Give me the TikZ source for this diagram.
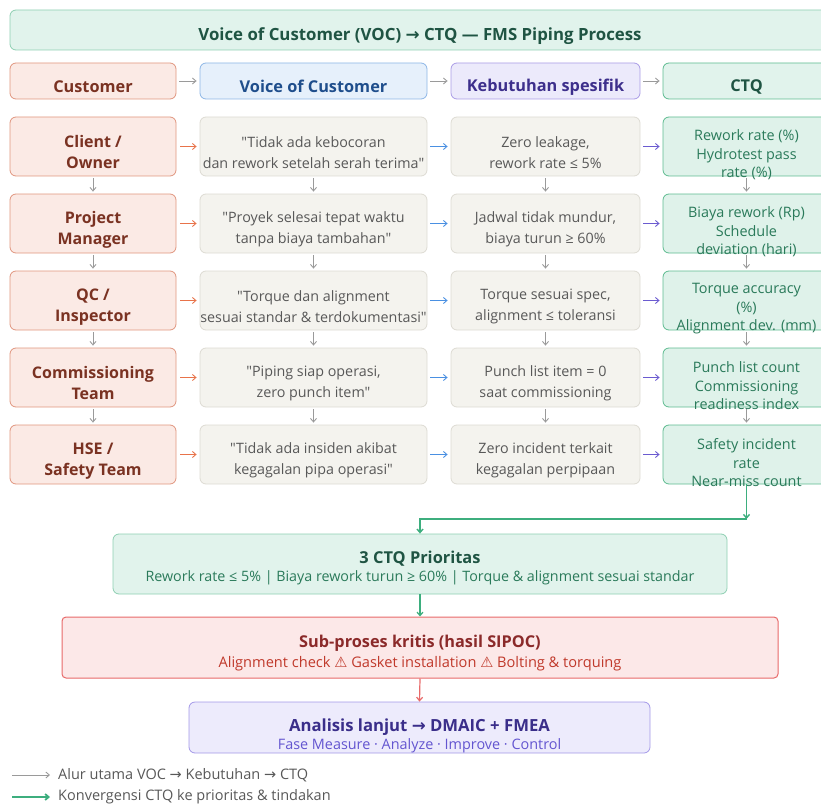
\documentclass[tikz,border=0pt]{standalone}
\usepackage{fontspec}
\setmainfont{Open Sans}[Ligatures=TeXOff]
\newfontfamily\symfont{DejaVu Sans}
\usetikzlibrary{arrows.meta}
\newcommand{\rarrow}{{\symfont\char"2192}}
\newcommand{\warnsign}{{\symfont\char"26A0}}
\newcommand{\fs}[2]{\fontsize{#1}{#2}\selectfont}
\newcommand{\lowr}[1]{\rule{0pt}{#1}}

\begin{document}
\begin{tikzpicture}[x=1pt,y=-1pt,
    box/.style={draw, rounded corners=6pt, line width=0.8pt, align=center, inner sep=0pt},
    custbox/.style={box, fill=custfill, draw=custline, text=custtext, minimum width=166pt, minimum height=59pt, font=\fs{16}{21}\bfseries, execute at begin node={\lowr{45pt}}},
    vocbox/.style={box, fill=cellfill, draw=cellline, text=celltext, minimum width=227pt, minimum height=59pt, font=\fs{14.3}{21}, execute at begin node={\lowr{44pt}}},
    kebbox/.style={vocbox, minimum width=189pt},
    ctqbox/.style={box, fill=ctqfill, draw=ctqline, minimum width=167pt, minimum height=59pt},
    ctqlabel/.style={align=center, text=ctqtext, font=\fs{14.4}{18.5}, inner sep=0pt},
    headbox/.style={box, minimum height=36pt, font=\fs{16.3}{18}\bfseries, execute at begin node={\lowr{24pt}}},
    flow/.style={-{Straight Barb[length=3.5pt,width=6pt]}, line width=0.9pt},
    grayflow/.style={flow, draw=arrowgray},
    greenflow/.style={flow, draw=greenline, line width=1.4pt},
    legend/.style={anchor=west, text=celltext, font=\fs{14.5}{16}, inner sep=0pt}]
    \definecolor{custfill}{HTML}{FBEAE5}
    \definecolor{custline}{HTML}{E0957E}
    \definecolor{custtext}{HTML}{7A3222}
    \definecolor{cellfill}{HTML}{F4F3EE}
    \definecolor{cellline}{HTML}{DDDBD3}
    \definecolor{celltext}{HTML}{585858}
    \definecolor{ctqfill}{HTML}{DFF2EA}
    \definecolor{ctqline}{HTML}{5DBB90}
    \definecolor{ctqtext}{HTML}{2A7A5A}
    \definecolor{mintfill}{HTML}{E1F3EC}
    \definecolor{mintline}{HTML}{8ECFB2}
    \definecolor{darkgreen}{HTML}{1F5443}
    \definecolor{vocfill}{HTML}{E6F0FB}
    \definecolor{vocline}{HTML}{8DB6E6}
    \definecolor{voctext}{HTML}{1F4E8C}
    \definecolor{kebfill}{HTML}{ECEAFB}
    \definecolor{kebline}{HTML}{A99BE6}
    \definecolor{kebtext}{HTML}{3D2F8C}
    \definecolor{arrowgray}{HTML}{9A9A9A}
    \definecolor{arroworange}{HTML}{E8734A}
    \definecolor{arrowblue}{HTML}{4A90E2}
    \definecolor{arrowpurple}{HTML}{6B5BD0}
    \definecolor{greenline}{HTML}{3DAE7E}
    \definecolor{critfill}{HTML}{FCE8E8}
    \definecolor{critline}{HTML}{E86A6A}
    \definecolor{crittitle}{HTML}{8B2A2A}
    \definecolor{crittext}{HTML}{C0392B}
    \definecolor{anafill}{HTML}{EDEBFC}
    \definecolor{analine}{HTML}{A398E8}
    \definecolor{anatitle}{HTML}{3A2E8A}
    \definecolor{anatext}{HTML}{6355D0}

    \useasboundingbox (0,0) rectangle (821,805);
    \clip (0,0) rectangle (821,805);

    \node [headbox, fill=mintfill, draw=mintline, text=darkgreen, minimum width=820pt, minimum height=40pt, font=\fs{16.8}{18}\bfseries, execute at begin node={\lowr{26pt}}] (title) at (420,30) {Voice of Customer (VOC) \rarrow\ CTQ — FMS Piping Process};

    \node [headbox, fill=custfill, draw=custline, text=custtext, minimum width=166pt] (hcu) at (93,81) {Customer};
    \node [headbox, fill=vocfill, draw=vocline, text=voctext, minimum width=227pt] (hvo) at (313.5,81) {Voice of Customer};
    \node [headbox, fill=kebfill, draw=kebline, text=kebtext, minimum width=189pt] (hke) at (545.5,81) {Kebutuhan spesifik};
    \node [headbox, fill=mintfill, draw=ctqline, text=darkgreen, minimum width=167pt] (hct) at (746.5,81) {CTQ};
    \draw [grayflow, shorten <=3pt, shorten >=3pt] (hcu) -- (hvo);
    \draw [grayflow, shorten <=3pt, shorten >=3pt] (hvo) -- (hke);
    \draw [grayflow, shorten <=3pt, shorten >=3pt] (hke) -- (hct);

    \foreach \i/\cust/\voc/\keb/\ctq [evaluate=\i as \y using {69.5 + 77 * \i}] in {
        1/{Client /\\Owner}/{"Tidak ada kebocoran\\dan rework setelah serah terima"}/{Zero leakage,\\rework rate ≤ 5\%}/{Rework rate (\%)\\Hydrotest pass\\rate (\%)},
        2/{Project\\Manager}/{"Proyek selesai tepat waktu\\tanpa biaya tambahan"}/{Jadwal tidak mundur,\\biaya turun ≥ 60\%}/{Biaya rework (Rp)\\Schedule\\deviation (hari)},
        3/{QC /\\Inspector}/{"Torque dan alignment\\sesuai standar \& terdokumentasi"}/{Torque sesuai spec,\\alignment ≤ toleransi}/{Torque accuracy\\(\%)\\Alignment dev. (mm)},
        4/{Commissioning\\Team}/{"Piping siap operasi,\\zero punch item"}/{Punch list item = 0\\saat commissioning}/{Punch list count\\Commissioning\\readiness index},
        5/{HSE /\\Safety Team}/{"Tidak ada insiden akibat\\kegagalan pipa operasi"}/{Zero incident terkait\\kegagalan perpipaan}/{Safety incident\\rate\\Near-miss count}}{
        \node [custbox] (cu\i) at (93, \y) {\cust};
        \node [vocbox] (vo\i) at (313.5, \y) {\voc};
        \node [kebbox] (ke\i) at (545.5, \y) {\keb};
        \node [ctqbox] (ct\i) at (746.5, \y) {};
        \node [ctqlabel] (ctl\i) at (746.5, \y + 8.5) {\ctq};
        \draw [flow, draw=arroworange, shorten <=4pt, shorten >=3pt] (cu\i) -- (vo\i);
        \draw [flow, draw=arrowblue, shorten <=3pt, shorten >=3pt] (vo\i) -- (ke\i);
        \draw [flow, draw=arrowpurple, shorten <=3pt, shorten >=3pt] (ke\i) -- (ct\i);
    }

    \foreach \i [evaluate=\i as \j using {int(\i + 1)}] in {1,...,4}{
        \draw [grayflow, shorten <=2pt, shorten >=2pt] (cu\i) -- (cu\j);
        \draw [grayflow, shorten <=2pt, shorten >=2pt] (vo\i) -- (vo\j);
        \draw [grayflow, shorten <=2pt, shorten >=2pt] (ke\i) -- (ke\j);
        \draw [grayflow, shorten <=2pt, shorten >=2pt] (ct\i) -- (ct\j);
    }

    \node [box, fill=mintfill, draw=mintline, minimum width=614pt, minimum height=60pt] (prio) at (420,564)
        {{\fs{16.4}{19}\bfseries\color{darkgreen}\lowr{20.5pt}3 CTQ Prioritas}\\[4pt]{\fs{14.3}{16}\color{ctqtext} Rework rate ≤ 5\% | Biaya rework turun ≥ 60\% | Torque \& alignment sesuai standar}};
    \node [box, fill=critfill, draw=critline, line width=1pt, rounded corners=4pt, minimum width=716pt, minimum height=61pt] (crit) at (420,647.5)
        {{\fs{16.3}{19}\bfseries\color{crittitle}\lowr{24pt}Sub-proses kritis (hasil SIPOC)}\\[4pt]{\fs{14.6}{16}\color{crittext} Alignment check \warnsign\ Gasket installation \warnsign\ Bolting \& torquing}};
    \node [box, fill=anafill, draw=analine, minimum width=461pt, minimum height=51pt] (ana) at (419.5,727.5)
        {{\fs{16.7}{19}\bfseries\color{anatitle}\lowr{29pt}Analisis lanjut \rarrow\ DMAIC + FMEA}\\[2pt]{\fs{14.4}{15}\color{anatext} Fase Measure · Analyze · Improve · Control}};

    \coordinate (conv) at (746.5,519);
    \draw [greenflow] (ct5.south) -- (conv);
    \draw [greenflow] (conv) -| (prio.north);
    \draw [greenflow, line width=1.2pt] (prio.south) -- (crit.north);
    \draw [flow, draw=critline, line width=1.2pt] (crit.south) -- (ana.north);

    \node [legend] (leg1) at (58,775) {Alur utama VOC \rarrow\ Kebutuhan \rarrow\ CTQ};
    \node [legend] (leg2) at (58,797) {Konvergensi CTQ ke prioritas \& tindakan};
    \coordinate (lg1) at (12,775);
    \coordinate (lg2) at (12,797);
    \draw [grayflow, shorten >=8pt] (lg1) -- (leg1.west);
    \draw [greenflow, line width=1.8pt, shorten >=8pt] (lg2) -- (leg2.west);
\end{tikzpicture}
\end{document}
